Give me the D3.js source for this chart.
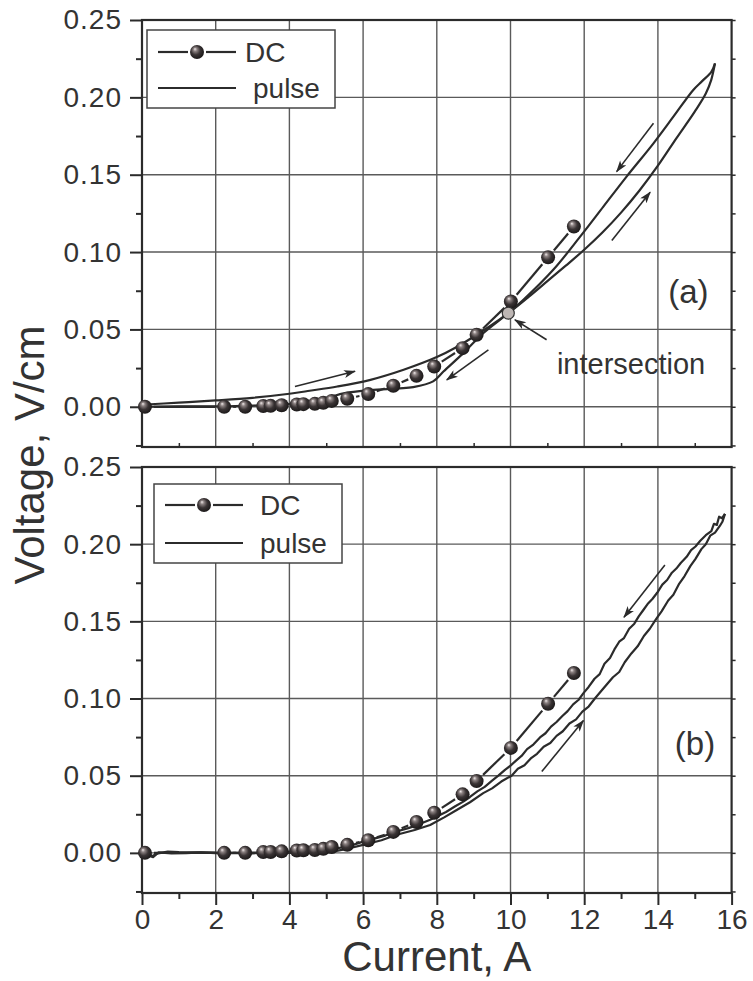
<!DOCTYPE html>
<html lang="en">
<head>
<meta charset="utf-8">
<title>V-I curves, DC and pulse</title>
<script src="https://cdn.jsdelivr.net/npm/d3@7"></script>
<style>
  body { margin: 0; background: #fff; }
  svg text { font-family: "Liberation Sans", Arial, sans-serif; fill: #333; }
</style>
</head>
<body>
<script>
// ---- data ----
// DC points (same measurement shown in both panels)
var dcCurrent = [0.08, 2.23, 2.8, 3.29, 3.49, 3.79, 4.2, 4.38, 4.69, 4.92, 5.15, 5.57, 6.14, 6.82, 7.45, 7.93, 8.7, 9.08, 10.01, 11.02, 11.72];
var dcVoltage = [0, 0, 0, 0.0005, 0.0006, 0.001, 0.0015, 0.0017, 0.0019, 0.0026, 0.0038, 0.0052, 0.0082, 0.0136, 0.02, 0.026, 0.0379, 0.0465, 0.068, 0.0966, 0.1165];

// panel (a): pulse, rising and falling current
var pulseUpA = [[0,0.0013],[1,0.0027],[2,0.0041],[3,0.0058],[4,0.0084],[4.5,0.0102],[5.3,0.0131],[6.2,0.0174],[7.1,0.0239],[8.0,0.0321],[8.54,0.0386],[9.08,0.0465],[9.5,0.053],[9.94,0.0605],[10.5,0.0712],[11.0,0.0812],[11.5,0.0912],[12.0,0.1015],[12.5,0.1128],[13.0,0.1255],[13.5,0.1398],[14.0,0.1558],[14.5,0.1735],[15.0,0.1908],[15.3,0.2025],[15.45,0.2115],[15.55,0.222]];
var pulseDownA = [[15.55,0.222],[15.45,0.2165],[15.2,0.2105],[14.96,0.2048],[14.42,0.1875],[13.88,0.1703],[13.15,0.1488],[12.52,0.1294],[11.89,0.11],[11.16,0.0885],[10.35,0.0691],[9.94,0.0605],[9.26,0.0476],[8.72,0.0347],[8.18,0.0228],[7.9,0.0164],[7.36,0.0127],[6.2,0.0108],[5.5,0.0088],[5.0,0.0055],[4.5,0.003],[4.0,0.0018],[3.0,0.0008],[2.0,0.0003],[1.0,0.0002],[0,0]];

// panel (b)
var pulseUpB = [[0,0],[0.15,0.0008],[0.3,-0.0028],[0.45,0.0003],[0.8,-0.0003],[1.2,-0.0002],[1.6,0.0003],[2.0,-0.0002],[2.5,0],[3.0,-0.0003],[3.5,0.0002],[4.0,0],[4.5,0.0004],[5.1,0.0005],[5.6,0.0028],[6.0,0.0052],[6.5,0.0082],[6.91,0.0117],[7.4,0.0148],[7.82,0.0181],[8.2,0.023],[8.54,0.0278],[8.9,0.0328],[9.26,0.0387],[9.5,0.0418],[9.75,0.0462],[10.03,0.05],[10.2,0.0545],[10.38,0.0568],[10.55,0.0612],[10.72,0.0642],[10.9,0.0688],[11.08,0.0712],[11.25,0.0758],[11.42,0.0788],[11.6,0.0838],[11.78,0.0865],[11.95,0.0915],[12.12,0.0948],[12.29,0.1],[12.45,0.1045],[12.6,0.1088],[12.78,0.1138],[12.95,0.1172],[13.1,0.1235],[13.28,0.1292],[13.45,0.1338],[13.62,0.1405],[13.78,0.1452],[13.95,0.1515],[14.1,0.1565],[14.28,0.1635],[14.42,0.1672],[14.58,0.1745],[14.72,0.1792],[14.88,0.1858],[15.02,0.1905],[15.18,0.1968],[15.3,0.2],[15.42,0.2055],[15.55,0.2075],[15.68,0.2118],[15.75,0.2145],[15.82,0.2196]];
var pulseDownB = [[15.82,0.2196],[15.74,0.2168],[15.66,0.2178],[15.6,0.2125],[15.52,0.2132],[15.45,0.2085],[15.3,0.2058],[15.15,0.2022],[15.02,0.1985],[14.9,0.1962],[14.78,0.1918],[14.62,0.1878],[14.5,0.1842],[14.38,0.1815],[14.25,0.1768],[14.12,0.1738],[13.98,0.1685],[13.85,0.1645],[13.72,0.1612],[13.6,0.1572],[13.48,0.1532],[13.36,0.1485],[13.22,0.1452],[13.08,0.1392],[12.95,0.1368],[12.82,0.1318],[12.7,0.1262],[12.55,0.1225],[12.42,0.1158],[12.28,0.1128],[12.12,0.1075],[11.98,0.1035],[11.85,0.0992],[11.7,0.0962],[11.55,0.0918],[11.4,0.0885],[11.25,0.0848],[11.1,0.0818],[10.95,0.0775],[10.8,0.0748],[10.62,0.0702],[10.45,0.0672],[10.3,0.0628],[10.15,0.0598],[10.0,0.0565],[9.85,0.0538],[9.67,0.05],[9.5,0.0468],[9.3,0.0428],[9.1,0.0398],[8.9,0.0362],[8.72,0.0332],[8.5,0.0302],[8.25,0.0265],[8.0,0.0236],[7.82,0.0214],[7.55,0.0188],[7.25,0.0162],[6.91,0.0138],[6.6,0.0112],[6.3,0.0092],[6.0,0.0073],[5.6,0.0042],[5.1,0.0022],[4.6,0.0012],[4.0,0.0008],[3.5,0.0003],[3.0,0.0002],[2.5,0],[2.0,0.0002],[1.5,0.0003],[1.0,0.0005],[0.7,0.0008],[0.4,-0.0005],[0.25,-0.0025],[0.1,0.0002],[0,0]];

// arrows: [fromI, fromV, toI, toV]
var arrowsA = [[4.15,0.0131,5.78,0.0229],[9.4,0.0368,8.27,0.0174],[13.88,0.1833,12.88,0.152],[12.75,0.1074,13.79,0.1387],[10.98,0.0433,10.12,0.0562]];
var arrowsB = [[14.19,0.1865,13.08,0.1527],[10.85,0.0527,11.98,0.0857]];
var intersection = [9.94, 0.0605];

var xTicks = [0, 2, 4, 6, 8, 10, 12, 14, 16];
var yTicks = [0, 0.05, 0.10, 0.15, 0.20, 0.25];

// ---- layout ----
var W = 753, H = 981;
var left = 142, right = 731.6;
var panels = [
  { top: 20, bottom: 447, up: pulseUpA, down: pulseDownA, arrows: arrowsA, tag: "(a)", tagAt: [14.28, 0.0672],
    legend: { x: 147, y: 30, w: 188, h: 78, lx1: 158, lx2: 236, tx: 245, tx2: 253, row1: 52, row2: 88 } },
  { top: 467, bottom: 893, up: pulseUpB, down: pulseDownB, arrows: arrowsB, tag: "(b)", tagAt: [14.46, 0.0635],
    legend: { x: 154, y: 484, w: 188, h: 79, lx1: 165, lx2: 243, tx: 260, tx2: 260, row1: 505, row2: 543 } }
];

var ink = "#2b2b2b";
var svg = d3.select("body").append("svg").attr("width", W).attr("height", H);

var defs = svg.append("defs");
var grad = defs.append("radialGradient").attr("id", "ball")
  .attr("cx", "45%").attr("cy", "45%").attr("r", "60%").attr("fx", "35%").attr("fy", "28%");
grad.append("stop").attr("offset", "0%").attr("stop-color", "#f2ecec");
grad.append("stop").attr("offset", "22%").attr("stop-color", "#8c8282");
grad.append("stop").attr("offset", "55%").attr("stop-color", "#3a3435");
grad.append("stop").attr("offset", "100%").attr("stop-color", "#161414");
defs.append("marker").attr("id", "head")
  .attr("viewBox", "0 0 12 8").attr("refX", 11).attr("refY", 4)
  .attr("markerWidth", 13).attr("markerHeight", 8).attr("markerUnits", "userSpaceOnUse")
  .attr("orient", "auto")
  .append("path").attr("d", "M0,0 L12,4 L0,8 L3,4 Z").attr("fill", ink);

var x = d3.scaleLinear().domain([0, 16]).range([left, right]);
var dc = dcCurrent.map(function(c, i) { return [c, dcVoltage[i]]; });

panels.forEach(function(p, k) {
  var y = d3.scaleLinear().domain([-0.026, 0.25]).range([p.bottom, p.top]);
  var g = svg.append("g");

  // grid
  g.selectAll(".vg").data(xTicks.slice(1, -1)).enter().append("line")
    .attr("x1", x).attr("x2", x).attr("y1", p.top).attr("y2", p.bottom)
    .attr("stroke", "#5a5a5a").attr("stroke-width", 1.4);
  g.selectAll(".hg").data(yTicks.slice(0, -1)).enter().append("line")
    .attr("x1", left).attr("x2", right).attr("y1", y).attr("y2", y)
    .attr("stroke", "#5a5a5a").attr("stroke-width", 1.4);

  // left axis
  var yAxis = d3.axisLeft(y).tickValues(yTicks).tickFormat(d3.format(".2f")).tickSize(12).tickPadding(8);
  var ya = g.append("g").attr("transform", "translate(" + left + ",0)").call(yAxis);
  ya.select(".domain").remove();
  ya.selectAll("line").attr("stroke", ink).attr("stroke-width", 2);
  ya.selectAll("text").style("font-size", "28px").style("letter-spacing", "1px").attr("fill", "#333");
  var yMinor = d3.axisLeft(y).tickValues([-0.025, 0.025, 0.075, 0.125, 0.175, 0.225]).tickFormat("").tickSize(6);
  var ym = g.append("g").attr("transform", "translate(" + left + ",0)").call(yMinor);
  ym.select(".domain").remove();
  ym.selectAll("line").attr("stroke", ink).attr("stroke-width", 2);

  // right axis small ticks
  var yRight = d3.axisRight(y).tickValues(d3.range(-0.025, 0.251, 0.025)).tickFormat("").tickSize(4);
  var yr = g.append("g").attr("transform", "translate(" + right + ",0)").call(yRight);
  yr.select(".domain").remove();
  yr.selectAll("line").attr("stroke", ink).attr("stroke-width", 1.5);

  // bottom axis
  if (k === 1) {
    var xa = g.append("g").attr("transform", "translate(0," + p.bottom + ")")
      .call(d3.axisBottom(x).tickValues(xTicks).tickFormat(d3.format("d")).tickSize(12).tickPadding(4));
    xa.select(".domain").remove();
    xa.selectAll("line").attr("stroke", ink).attr("stroke-width", 2);
    xa.selectAll("text").style("font-size", "28px").attr("fill", "#333");
    var xm = g.append("g").attr("transform", "translate(0," + p.bottom + ")")
      .call(d3.axisBottom(x).tickValues(d3.range(1, 16, 2)).tickFormat("").tickSize(6));
    xm.select(".domain").remove();
    xm.selectAll("line").attr("stroke", ink).attr("stroke-width", 2);
  } else {
    var xi = g.append("g").attr("transform", "translate(0," + p.bottom + ")")
      .call(d3.axisTop(x).tickValues(d3.range(1, 16, 2)).tickFormat("").tickSize(4));
    xi.select(".domain").remove();
    xi.selectAll("line").attr("stroke", ink).attr("stroke-width", 1.5);
  }

  // frame
  g.append("rect").attr("x", left).attr("y", p.top).attr("width", right - left).attr("height", p.bottom - p.top)
    .attr("fill", "none").attr("stroke", ink).attr("stroke-width", 2.2);

  // pulse loops
  var line = d3.line().x(function(d) { return x(d[0]); }).y(function(d) { return y(d[1]); });
  if (k === 0) line.curve(d3.curveCatmullRom.alpha(0.5));
  [p.up, p.down].forEach(function(s) {
    g.append("path").attr("d", line(s)).attr("fill", "none")
      .attr("stroke", ink).attr("stroke-width", 2.2).attr("stroke-linejoin", "round");
  });

  // DC line with gaps around symbols
  var gap = 9;
  var segs = [];
  for (var i = 0; i < dc.length - 1; i++) {
    var x1 = x(dc[i][0]), y1 = y(dc[i][1]), x2 = x(dc[i + 1][0]), y2 = y(dc[i + 1][1]);
    var len = Math.hypot(x2 - x1, y2 - y1);
    if (len > 2 * gap + 2) {
      var ux = (x2 - x1) / len, uy = (y2 - y1) / len;
      segs.push([x1 + ux * gap, y1 + uy * gap, x2 - ux * gap, y2 - uy * gap]);
    }
  }
  g.selectAll(".dcseg").data(segs).enter().append("line")
    .attr("x1", function(d) { return d[0]; }).attr("y1", function(d) { return d[1]; })
    .attr("x2", function(d) { return d[2]; }).attr("y2", function(d) { return d[3]; })
    .attr("stroke", ink).attr("stroke-width", 2.2);
  g.selectAll(".dcpt").data(dc).enter().append("circle")
    .attr("cx", function(d) { return x(d[0]); }).attr("cy", function(d) { return y(d[1]); })
    .attr("r", 7).attr("fill", "url(#ball)");

  // arrows
  g.selectAll(".arr").data(p.arrows).enter().append("line")
    .attr("x1", function(d) { return x(d[0]); }).attr("y1", function(d) { return y(d[1]); })
    .attr("x2", function(d) { return x(d[2]); }).attr("y2", function(d) { return y(d[3]); })
    .attr("stroke", ink).attr("stroke-width", 1.6).attr("marker-end", "url(#head)");

  if (k === 0) {
    g.append("circle").attr("cx", x(intersection[0])).attr("cy", y(intersection[1])).attr("r", 6)
      .attr("fill", "#bdb6b4").attr("stroke", "#333").attr("stroke-width", 1.2);
    g.append("text").attr("x", x(11.26)).attr("y", y(0.0213)).style("font-size", "29px").text("intersection");
  }

  g.append("text").attr("x", x(p.tagAt[0])).attr("y", y(p.tagAt[1])).style("font-size", "33px").text(p.tag);

  // legend
  var L = p.legend;
  g.append("rect").attr("x", L.x).attr("y", L.y).attr("width", L.w).attr("height", L.h)
    .attr("fill", "#fff").attr("stroke", "#444").attr("stroke-width", 1.5);
  var mid = (L.lx1 + L.lx2) / 2;
  g.append("line").attr("x1", L.lx1).attr("x2", mid - gap).attr("y1", L.row1).attr("y2", L.row1).attr("stroke", ink).attr("stroke-width", 2.2);
  g.append("line").attr("x1", mid + gap).attr("x2", L.lx2).attr("y1", L.row1).attr("y2", L.row1).attr("stroke", ink).attr("stroke-width", 2.2);
  g.append("circle").attr("cx", mid).attr("cy", L.row1).attr("r", 7).attr("fill", "url(#ball)");
  g.append("line").attr("x1", L.lx1).attr("x2", L.lx2).attr("y1", L.row2).attr("y2", L.row2).attr("stroke", ink).attr("stroke-width", 2.2);
  g.append("text").attr("x", L.tx).attr("y", L.row1 + 10).style("font-size", "28px").text("DC");
  g.append("text").attr("x", L.tx2).attr("y", L.row2 + 10).style("font-size", "28px").text("pulse");
});

// axis titles
svg.append("text").attr("x", (left + right) / 2).attr("y", 971).attr("text-anchor", "middle")
  .style("font-size", "42px").text("Current, A");
svg.append("text").attr("transform", "translate(44,455) rotate(-90)").attr("text-anchor", "middle")
  .style("font-size", "42px").text("Voltage, V/cm");
</script>
</body>
</html>
